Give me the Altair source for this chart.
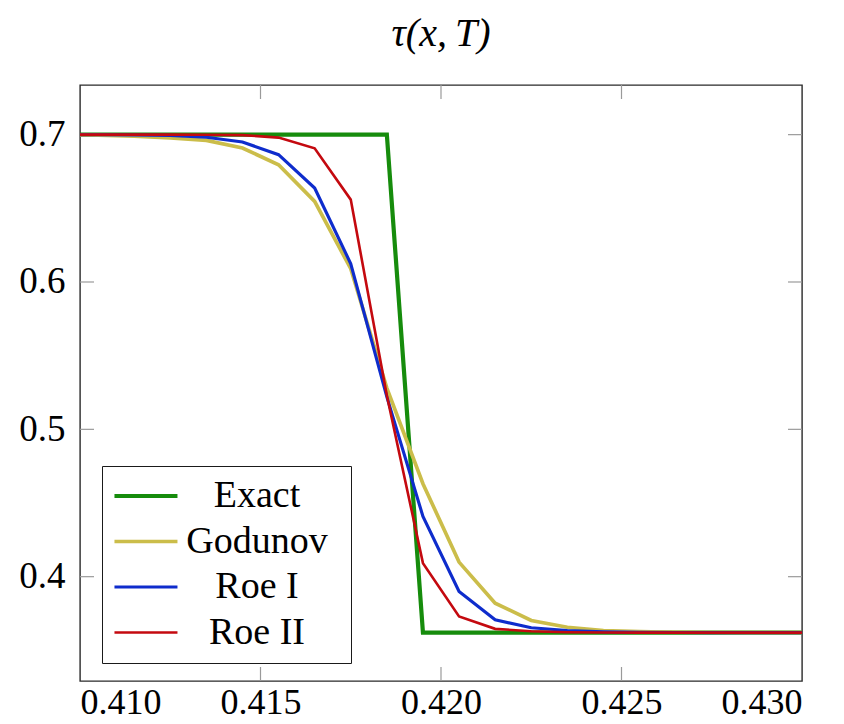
import altair as alt
import pandas as pd

# ---- data ----
x_vals = [0.4095, 0.4105, 0.4115, 0.4125, 0.4135, 0.4145, 0.4155, 0.4165, 0.4175, 0.4185,
          0.4195, 0.4205, 0.4215, 0.4225, 0.4235, 0.4245, 0.4255, 0.4265, 0.4275, 0.4285,
          0.4295, 0.4305]

exact = [0.700, 0.700, 0.700, 0.700, 0.700, 0.700, 0.700, 0.700, 0.700, 0.700,
         0.362, 0.362, 0.362, 0.362, 0.362, 0.362, 0.362, 0.362, 0.362, 0.362,
         0.362, 0.362]
godunov = [0.7000, 0.6997, 0.6989, 0.6977, 0.6961, 0.6909, 0.6796, 0.6547, 0.6090, 0.5280,
           0.4631, 0.4099, 0.3820, 0.3703, 0.3657, 0.3635, 0.3627, 0.3623, 0.3621, 0.3620,
           0.3620, 0.3620]
roe1 = [0.7000, 0.6999, 0.6998, 0.6995, 0.6982, 0.6950, 0.6864, 0.6638, 0.6124, 0.5220,
        0.4409, 0.3900, 0.3707, 0.3653, 0.3635, 0.3626, 0.3622, 0.3621, 0.3620, 0.3620,
        0.3620, 0.3620]
roe2 = [0.7000, 0.7000, 0.7000, 0.7000, 0.6999, 0.6997, 0.6980, 0.6907, 0.6559, 0.5230,
        0.4092, 0.3730, 0.3646, 0.3630, 0.3623, 0.3621, 0.3620, 0.3620, 0.3620, 0.3620,
        0.3620, 0.3620]

series_names = ["Exact", "Godunov", "Roe I", "Roe II"]
series_colors = ["#168c0c", "#cbbd4a", "#0e2ccc", "#c4090f"]
series_widths = [4.2, 2.6, 2.6, 2.6]

x_ticks = [0.410, 0.415, 0.420, 0.425, 0.430]
y_ticks = [0.4, 0.5, 0.6, 0.7]
x_domain = [0.410, 0.430]
y_domain = [0.3292, 0.7337]

W, H = 722, 596
FONT = "Liberation Serif"

rows = []
for name, vals in zip(series_names, [exact, godunov, roe1, roe2]):
    for i, (xv, yv) in enumerate(zip(x_vals, vals)):
        rows.append({"x": xv, "y": yv, "series": name, "order": i})
df = pd.DataFrame(rows)

xs = alt.Scale(domain=x_domain, nice=False, zero=False)
ys = alt.Scale(domain=y_domain, nice=False, zero=False)


def make_legend():
    return alt.Legend(orient="none", legendX=22, legendY=381,
                      title="\u00a0", titleOrient="right", titlePadding=12,
                      titleFontSize=1,
                      symbolType="M-1.67,0H4.33", symbolSize=441,
                      labelAlign="center", labelOffset=106,
                      labelFont=FONT, labelFontSize=38, labelColor="black",
                      padding=11, rowPadding=7.5,
                      fillColor="white", strokeColor="#1a1a1a",
                      labelLimit=400)


lines = alt.Chart(df).mark_line(clip=True).encode(
    x=alt.X("x:Q", scale=xs, axis=alt.Axis(values=x_ticks, format=".3f", title=None,
                                           ticks=False, domain=False, grid=False,
                                           labelFont=FONT, labelFontSize=36,
                                           labelColor="black", labelPadding=4)),
    y=alt.Y("y:Q", scale=ys, axis=alt.Axis(values=y_ticks, format=".1f", title=None,
                                           ticks=False, domain=False, grid=False,
                                           labelFont=FONT, labelFontSize=37,
                                           labelColor="black", labelPadding=15)),
    color=alt.Color("series:N", scale=alt.Scale(domain=series_names, range=series_colors),
                    legend=make_legend()),
    strokeWidth=alt.StrokeWidth("series:N",
                                scale=alt.Scale(domain=series_names, range=series_widths),
                                legend=make_legend()),
    order="order:Q",
    detail="series:N",
)

xt = pd.DataFrame({"t": x_ticks[1:-1]})
yt = pd.DataFrame({"t": y_ticks})
tick_col = "#9a9a9a"

xb = alt.Chart(xt).mark_rule(color=tick_col, strokeWidth=1.2).encode(
    x=alt.X("t:Q", scale=xs), y=alt.value(H), y2=alt.value(H - 14))
xtop = alt.Chart(xt).mark_rule(color=tick_col, strokeWidth=1.2).encode(
    x=alt.X("t:Q", scale=xs), y=alt.value(0), y2=alt.value(14))
yl = alt.Chart(yt).mark_rule(color=tick_col, strokeWidth=1.2).encode(
    y=alt.Y("t:Q", scale=ys), x=alt.value(0), x2=alt.value(14))
yr = alt.Chart(yt).mark_rule(color=tick_col, strokeWidth=1.2).encode(
    y=alt.Y("t:Q", scale=ys), x=alt.value(W), x2=alt.value(W - 14))

chart = alt.layer(xb, xtop, yl, yr, lines).properties(
    width=W, height=H,
    background="white",
    autosize=alt.AutoSizeParams(type="none"),
    padding={"left": 72, "top": 77, "right": 34, "bottom": 40},
    title=alt.TitleParams("τ(x,\u2009T)", font=FONT, fontStyle="italic", fontSize=40,
                          fontWeight="normal", color="black", offset=30),
).configure_view(stroke="#2a2a2a", strokeWidth=1.4)

chart.save("out.html", embed_options={"renderer": "svg", "actions": False})
